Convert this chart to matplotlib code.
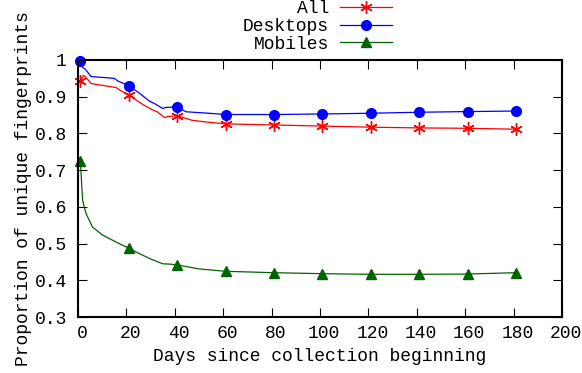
import numpy as np
import matplotlib.pyplot as plt
from matplotlib.transforms import ScaledTranslation

# days since collection beginning (markers every 20 days, starting day 1)
marker_days = [1, 21, 41, 61, 81, 101, 121, 141, 161, 181]

all_days = [1, 2.2, 3, 5.4, 10, 15.7, 18, 21, 24, 27, 30.8, 33, 35.7, 37, 41, 44, 47, 53,
            61, 81, 101, 121, 141, 161, 181]
all_vals = [0.942, 0.958, 0.955, 0.936, 0.931, 0.925, 0.915, 0.905, 0.891, 0.878, 0.864, 0.858,
            0.843, 0.846, 0.848, 0.842, 0.836, 0.831, 0.826, 0.823, 0.820, 0.817, 0.815, 0.814, 0.8115]

desk_days = [1, 1.9, 3, 5.4, 15, 16.4, 21, 25.3, 29.5, 32, 35, 36.4, 41, 44.6, 54,
             61, 81, 101, 121, 141, 161, 181]
desk_vals = [0.998, 0.980, 0.975, 0.955, 0.950, 0.943, 0.930, 0.910, 0.888, 0.880, 0.868, 0.871,
             0.872, 0.859, 0.855, 0.8515, 0.8515, 0.853, 0.855, 0.8577, 0.8595, 0.861]

mob_days = [1, 1.2, 1.9, 3.3, 6, 10.2, 14.3, 18.5, 21, 24, 30, 35, 38, 41, 50,
            61, 81, 101, 121, 141, 161, 181]
mob_vals = [0.7245, 0.700, 0.618, 0.582, 0.545, 0.523, 0.509, 0.495, 0.488, 0.477, 0.458, 0.445,
            0.444, 0.442, 0.431, 0.4245, 0.4206, 0.418, 0.4163, 0.4163, 0.417, 0.4207]

plt.rcParams['font.family'] = 'Liberation Mono'
plt.rcParams['font.size'] = 13

fig = plt.figure(figsize=(5.82, 3.73), dpi=100)
ax = fig.add_axes([78 / 582, 1 - 317 / 373, 484 / 582, 257 / 373])

series = [
    ('All', all_days, all_vals, '#ff0000', (6, 2, 0), 9),
    ('Desktops', desk_days, desk_vals, '#0000ff', 'o', 7),
    ('Mobiles', mob_days, mob_vals, '#006400', '^', 7),
]
for name, d, v, c, m, ms in series:
    mask = np.isin(d, marker_days)
    ax.plot(d, v, color=c, lw=0.9, marker=m, ms=ms, markevery=list(mask),
            mec=c, mfc=c, mew=1.0, label=name, clip_on=False)

ax.set_xlim(0, 200)
ax.set_ylim(0.3, 1.0)
ax.set_xticks(range(0, 201, 20))
ax.set_yticks([0.3, 0.4, 0.5, 0.6, 0.7, 0.8, 0.9, 1.0])
ax.set_yticklabels(['0.3', '0.4', '0.5', '0.6', '0.7', '0.8', '0.9', '1'])
ax.tick_params(direction='in', length=6.5, width=0.8, top=True, right=True,
               labelsize=13)
ax.tick_params(axis='y', pad=8)
ax.tick_params(axis='x', pad=6)
for lab in ax.get_xticklabels():
    lab.set_transform(lab.get_transform() + ScaledTranslation(4 / 100, 0, fig.dpi_scale_trans))
for s in ax.spines.values():
    s.set_linewidth(1.5)

ax.set_xlabel('Days since collection beginning', labelpad=4)
ax.set_ylabel('Proportion of unique fingerprints', labelpad=2)

leg = fig.legend(loc='upper right', bbox_to_anchor=(392 / 582, 1.0), frameon=False,
                 markerfirst=False, handlelength=2.9, handletextpad=0.6,
                 labelspacing=0.05, borderpad=0, borderaxespad=0)

fig.savefig('out.png', dpi=100)
